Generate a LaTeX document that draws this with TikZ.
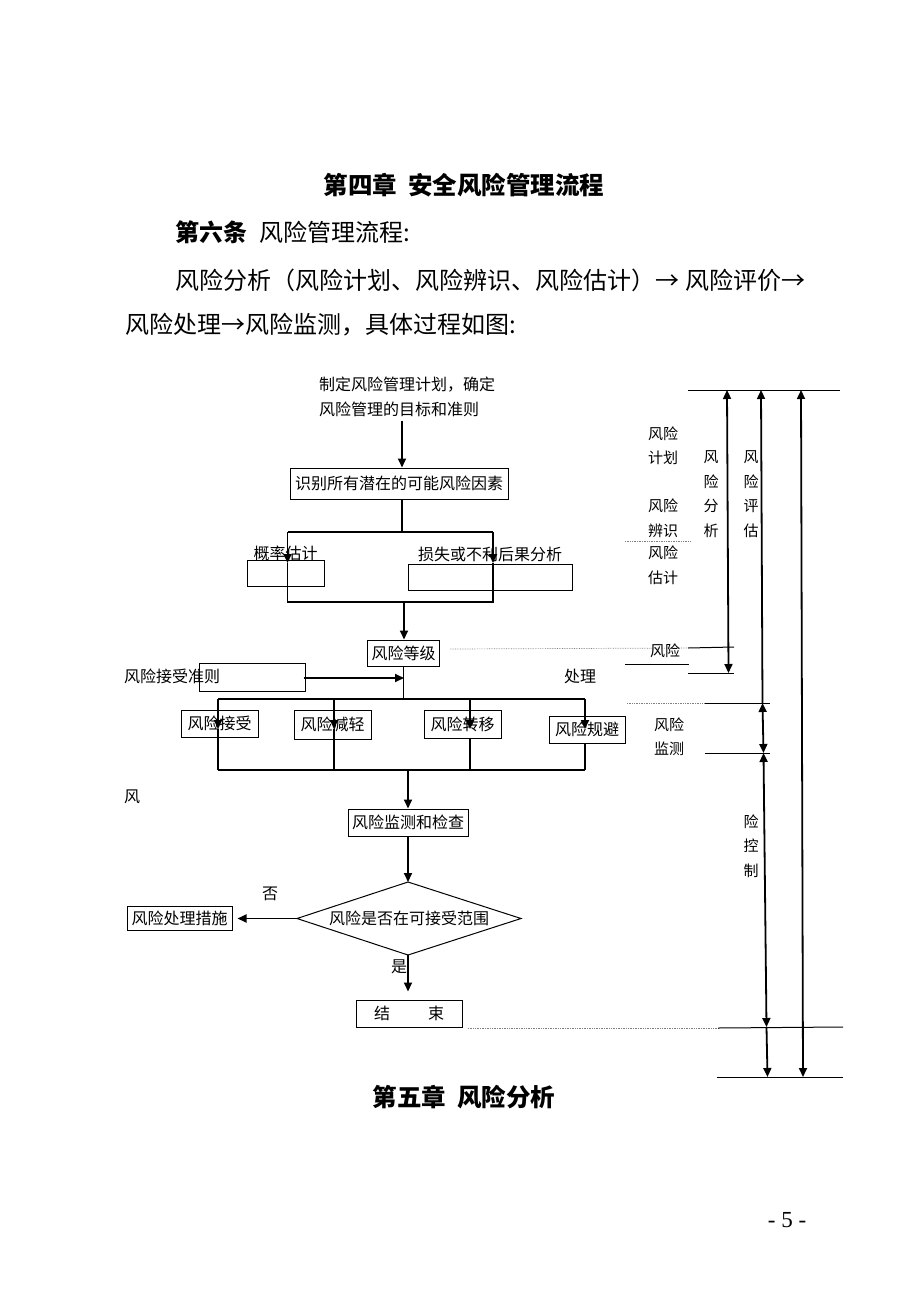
\documentclass[tikz,border=0pt]{standalone}
\usepackage{fontspec}
\setmainfont{Noto Sans CJK SC}
\newfontfamily\tnrfont{Liberation Serif}
\usetikzlibrary{arrows.meta}
\newcommand{\myfs}{\fontsize{16}{24.5}\selectfont}
\newcommand{\myfr}{\fontsize{15}{24.5}\selectfont}
\newcommand{\mybody}{\fontsize{24}{30}\selectfont}
\begin{document}
\begin{tikzpicture}[x=1pt,y=-1pt,
 box/.style={draw, line width=1pt, inner sep=0pt, font=\myfs},
 txt/.style={inner sep=0pt, font=\myfs},
 rtxt/.style={inner sep=0pt, font=\myfr, align=center},
 arr/.style={-{Triangle[length=9pt,width=8pt]}, line width=1.8pt},
 darr/.style={{Triangle[length=9pt,width=8pt]}-{Triangle[length=9pt,width=8pt]}, line width=1.8pt},
 uarr/.style={{Triangle[length=9pt,width=8pt]}-, line width=1.8pt},
 ln/.style={line width=1.8pt},
 rule/.style={line width=1pt},
 dot/.style={densely dotted, line width=0.7pt, gray}
]
\useasboundingbox[fill=white] (0,0) rectangle (920,1303);

% ---------- page text ----------
\node[inner sep=0pt, font=\fontsize{24.5}{30}\selectfont\bfseries] (h1) at (464,185) {第四章\hspace{11pt}安全风险管理流程};
\node[inner sep=0pt, anchor=west, font=\mybody] (h2) at (175,232) {{\bfseries 第六条}\hspace{12pt}风险管理流程:};
\node[inner sep=0pt, anchor=west, font=\mybody] (h3) at (175,280) {风险分析（风险计划、风险辨识、风险估计）→\hspace{6pt}风险评价→};
\node[inner sep=0pt, anchor=west, font=\mybody] (h4) at (125,325) {风险处理→风险监测，具体过程如图:};
\node[inner sep=0pt, font=\fontsize{24.5}{30}\selectfont\bfseries] (h5) at (464,1097) {第五章\hspace{11pt}风险分析};
\node[inner sep=0pt, font=\tnrfont\fontsize{23}{28}\selectfont] (pg) at (787,1220) {- 5 -};

% ---------- flowchart ----------
\node[txt, align=left, anchor=west] (t0) at (319,397) {制定风险管理计划，确定\\风险管理的目标和准则};
\node[box, minimum width=218pt, minimum height=31pt] (b1) at (399,483.5) {识别所有潜在的可能风险因素};
\coordinate (a0) at (402,421);
\draw[arr] (a0) -- (a0 |- b1.north);

\coordinate (j1) at (402,532);
\coordinate (j1l) at (287.5,532);
\coordinate (j1r) at (493,532);
\draw[ln] (b1.south -| j1) -- (j1);
\draw[ln] (j1l) -- (j1r);

\node[box, minimum width=77pt, minimum height=26pt] (pa) at (285.5,573) {};
\node[txt] (pal) at (285.5,553) {概率估计};
\node[box, minimum width=164pt, minimum height=26pt] (pb) at (490,577) {};
\node[txt] (pbl) at (490,554) {损失或不利后果分析};

\coordinate (k1l) at (287.5,563);
\coordinate (k1r) at (493,563);
\draw[arr] (j1l) -- (k1l);
\draw[arr] (j1r) -- (k1r);
\coordinate (j2l) at (287.5,602);
\coordinate (j2r) at (493,602);
\coordinate (j2) at (404,602);
\draw[ln] (k1l) -- (j2l) -- (j2r) -- (k1r);

\node[box, minimum width=72pt, minimum height=26pt] (c) at (403.5,653) {风险等级};
\draw[arr] (j2) -- (j2 |- c.north);

\node[box, minimum width=106pt, minimum height=28pt] (acc) at (252,677) {};
\node[txt] (accl) at (172,676) {风险接受准则};
\coordinate (j3) at (404,678);
\draw[arr] ([xshift=-2pt]acc.east |- j3) -- (j3);

\coordinate (j4) at (403.5,699);
\draw[ln] (c.south) -- (j4);

\node[box, minimum width=77pt, minimum height=27pt] (r1) at (219.5,723.5) {风险接受};
\node[box, minimum width=77pt, minimum height=29pt] (r2) at (332.5,724.5) {风险减轻};
\node[box, minimum width=77pt, minimum height=28pt] (r3) at (462.5,724) {风险转移};
\node[box, minimum width=76pt, minimum height=27pt] (r4) at (587,729.5) {风险规避};

\coordinate (h1c) at (218,699);
\coordinate (h2c) at (334,699);
\coordinate (h3c) at (470,699);
\coordinate (h4c) at (585,699);
\draw[ln] (h1c) -- (h4c);
\coordinate (p1) at (218,729);
\coordinate (p2) at (334,729);
\coordinate (p3) at (470,729);
\coordinate (p4) at (585,729);
\draw[arr] (h1c) -- (p1);
\draw[arr] (h2c) -- (p2);
\draw[arr] (h3c) -- (p3);
\draw[arr] (h4c) -- (p4);
\coordinate (q1) at (218,770);
\coordinate (q2) at (334,770);
\coordinate (q3) at (470,770);
\coordinate (q4) at (585,770);
\draw[ln] (p1) -- (q1);
\draw[ln] (p2) -- (q2);
\draw[ln] (r3.south -| q3) -- (q3);
\draw[ln] (r4.south -| q4) -- (q4);
\draw[ln] (q1) -- (q4);

\node[box, minimum width=120pt, minimum height=27pt] (m) at (408,822.5) {风险监测和检查};
\coordinate (j5) at (408,770);
\draw[arr] (j5) -- (m.north);

% diamond
\coordinate (dT) at (408,882);
\coordinate (dR) at (521,918.5);
\coordinate (dB) at (408,955);
\coordinate (dL) at (297,918.5);
\draw[line width=1pt] (dT) -- (dR) -- (dB) -- (dL) -- cycle;
\node[txt] (d) at (409,918.5) {风险是否在可接受范围};
\draw[arr] (m.south) -- (dT);

\node[box, minimum width=105pt, minimum height=24pt] (f) at (179.5,918.5) {风险处理措施};
\draw[arr] (dL) -- ([xshift=5pt]f.east);
\node[txt] (no) at (270,894) {否};

\node[box, minimum width=106pt, minimum height=27pt] (e) at (409,1013.5) {结\hspace{38pt}束};
\draw[arr, shorten >=8pt] (dB) -- (e.north -| dB);
\node[txt] (yes) at (399,967) {是};

\node[txt] (chuli) at (580,676) {处理};
\node[txt] (feng) at (132,797) {风};

% ---------- right-side brackets ----------
\coordinate (tl) at (688,390);
\coordinate (tr) at (840,390);
\draw[rule] (tl) -- (tr);

\coordinate (a1t) at (727,390);
\coordinate (a1b) at (728.5,673);
\draw[darr] (a1t) -- (a1b);

\coordinate (a2t) at (761,390);
\coordinate (a2m) at (762.5,703);
\coordinate (a2n) at (763.5,753);
\coordinate (a2o) at (766.5,1027);
\coordinate (a2b) at (767.5,1077);
\draw[uarr] (a2t) -- (a2m);
\draw[darr] (a2m) -- (a2n);
\draw[darr] (a2n) -- (a2o);
\draw[arr] (a2o) -- (a2b);

\coordinate (a3t) at (801,390);
\coordinate (a3b) at (803,1077);
\draw[darr] (a3t) -- (a3b);

% horizontal rules
\coordinate (c1a) at (450,649);
\coordinate (c1b) at (688,648);
\coordinate (c1c) at (734,647);
\draw[dot] (c1a) -- (c1b);
\draw[rule] (c1b) -- (c1c);
\coordinate (c2a) at (625,664);
\coordinate (c2b) at (689,664);
\draw[rule] (c2a) -- (c2b);
\coordinate (c3a) at (688,673);
\coordinate (c3b) at (734,673);
\draw[rule] (c3a) -- (c3b);

\coordinate (c4a) at (627,703);
\coordinate (c4b) at (705,703);
\coordinate (c4c) at (770,703);
\draw[dot] (c4a) -- (c4b);
\draw[rule] (c4b) -- (c4c);
\coordinate (c5a) at (705,753);
\coordinate (c5b) at (770,753);
\draw[rule] (c5a) -- (c5b);

\coordinate (c6a) at (468,1028);
\coordinate (c6b) at (718,1028);
\coordinate (c6c) at (843,1027);
\draw[dot] (c6a) -- (c6b);
\draw[rule] (c6b) -- (c6c);
\coordinate (c7a) at (717,1077);
\coordinate (c7b) at (843,1077);
\draw[rule] (c7a) -- (c7b);

\coordinate (c8a) at (625,541);
\coordinate (c8b) at (690,541);
\draw[dot] (c8a) -- (c8b);

% right labels
\node[rtxt] (l1) at (663,445.5) {风险\\计划};
\node[rtxt] (l2) at (663,518) {风险\\辨识};
\node[rtxt] (l3) at (663,565) {风险\\估计};
\node[rtxt] (l4) at (711,494) {风\\险\\分\\析};
\node[rtxt] (l5) at (751,494) {风\\险\\评\\估};
\node[rtxt] (l6) at (665,651) {风险};
\node[rtxt] (l7) at (669,736.5) {风险\\监测};
\node[rtxt] (l8) at (751,846) {险\\控\\制};
\end{tikzpicture}
\end{document}
